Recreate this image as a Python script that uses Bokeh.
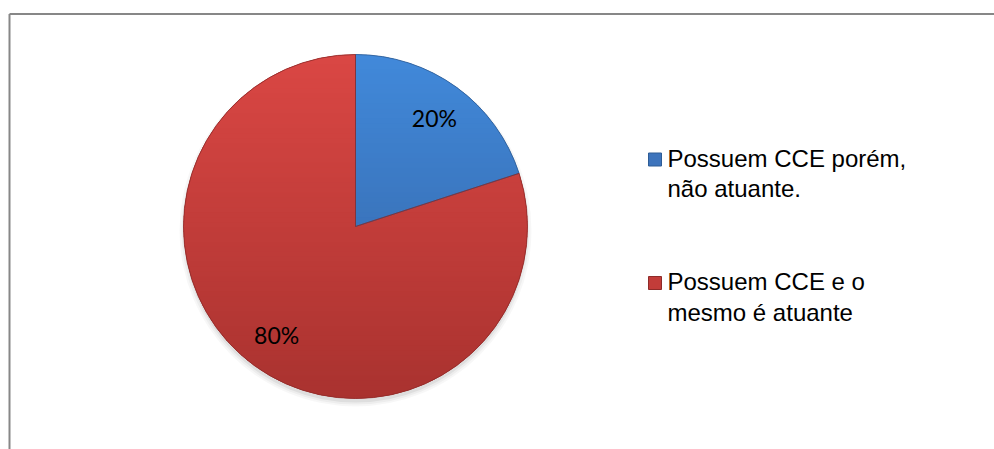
import numpy as np
from bokeh.plotting import figure
from bokeh.models import Range1d
from bokeh.embed import file_html
from bokeh.resources import INLINE
from bokeh.core.properties import value

# ---- data ----
categories = ["Possuem CCE porém,\nnão atuante.", "Possuem CCE e o\nmesmo é atuante"]
values = [20, 80]
pct_labels = ["20%", "80%"]

# ---- style ----
colors_top = ["#4189DA", "#DA4744"]
colors_bottom = ["#33609F", "#A9322F"]
legend_colors = ["#3D74BC", "#C23C39"]
edge_colors = ["#2E5C95", "#8E2B29"]

W, H = 994, 449
CX, CY, R = 355, 223, 172

p = figure(width=W, height=H, x_range=Range1d(0, W), y_range=Range1d(0, H),
           output_backend="svg", toolbar_location=None, min_border=0,
           x_axis_location=None, y_axis_location=None,
           outline_line_color=None, background_fill_color="white",
           border_fill_color="white")
p.grid.visible = False

# chart frame (top and left edges visible)
p.line([9, 9], [0, 435.5], line_color="#878787", line_width=2)
p.line([9, W + 5], [435.5, 435.5], line_color="#878787", line_width=2)

# angles (clockwise from 12 o'clock)
total = float(sum(values))
fr = np.cumsum([0] + values) / total
ends = np.pi / 2 - 2 * np.pi * fr[:-1]
starts = np.pi / 2 - 2 * np.pi * fr[1:]

# soft shadow
for k, a in [(0, 0.06), (2, 0.04), (4, 0.03)]:
    p.circle(x=[CX], y=[CY - 4], radius=R + k, fill_color="black",
             fill_alpha=a, line_color=None)


def hex2rgb(h):
    h = h.lstrip("#")
    return np.array([int(h[i:i + 2], 16) for i in (0, 2, 4)], float)


def rgb2hex(c):
    return "#%02x%02x%02x" % tuple(int(round(v)) for v in c)


def clip(poly, inside, inter):
    out = []
    n = len(poly)
    for i in range(n):
        cur, prev = poly[i], poly[i - 1]
        if inside(cur):
            if not inside(prev):
                out.append(inter(prev, cur))
            out.append(cur)
        elif inside(prev):
            out.append(inter(prev, cur))
    return out


def inter_y(c):
    def f(a, b):
        t = (c - a[1]) / (b[1] - a[1])
        return (a[0] + t * (b[0] - a[0]), c)
    return f


# base solid wedges (mid colours) under the gradient strips
mids = [rgb2hex((hex2rgb(a) + hex2rgb(b)) / 2) for a, b in zip(colors_top, colors_bottom)]
p.wedge(x=CX, y=CY, radius=R, start_angle=list(starts), end_angle=list(ends),
        fill_color=mids, line_color=None)

xs, ys, fills = [], [], []
nb = 70
edges = np.linspace(CY - R - 1, CY + R + 1, nb + 1)
ov = 0.6
order = [1, 0]  # red first, blue on top
for i in order:
    a = np.linspace(starts[i], ends[i], 240)
    poly = [(CX, CY)] + [(CX + R * np.cos(t), CY + R * np.sin(t)) for t in a]
    ct, cb = hex2rgb(colors_top[i]), hex2rgb(colors_bottom[i])
    for j in range(nb):
        y0, y1 = edges[j] - ov, edges[j + 1] + ov
        q = clip(poly, lambda pt, y0=y0: pt[1] >= y0, inter_y(y0))
        if len(q) < 3:
            continue
        q = clip(q, lambda pt, y1=y1: pt[1] <= y1, inter_y(y1))
        if len(q) < 3:
            continue
        f = ((edges[j] + edges[j + 1]) / 2 - (CY - R)) / (2 * R)  # 0 bottom, 1 top
        col = rgb2hex(cb + (ct - cb) * f)
        xs.append([pt[0] for pt in q])
        ys.append([pt[1] for pt in q])
        fills.append(col)

p.patches(xs=xs, ys=ys, fill_color=fills, line_color=None)

# slice edges
p.wedge(x=CX, y=CY, radius=R, start_angle=list(starts), end_angle=list(ends),
        fill_alpha=0, line_color=edge_colors, line_width=1, line_alpha=0.8)

# percent labels
mid = (starts + ends) / 2
lx = CX + 0.78 * R * np.cos(mid)
ly = CY + 0.78 * R * np.sin(mid)
p.text(x=list(lx), y=list(ly), text=pct_labels, text_font=value("Lato"),
       text_font_size="23px", text_align="center", text_baseline="middle",
       text_color="black")

# legend (entries top to bottom)
leg_y = [290, 166.5]
p.rect(x=[654.5] * 2, y=leg_y, width=13, height=13,
       fill_color=legend_colors, line_color=edge_colors, line_width=1)
p.text(x=[667] * 2, y=[y + 15 for y in leg_y], text=categories,
       text_font=value("Liberation Sans"), text_font_size="24px",
       text_baseline="top", text_line_height=1.13, text_color="black")

open("out.html", "w").write(file_html(p, INLINE))
